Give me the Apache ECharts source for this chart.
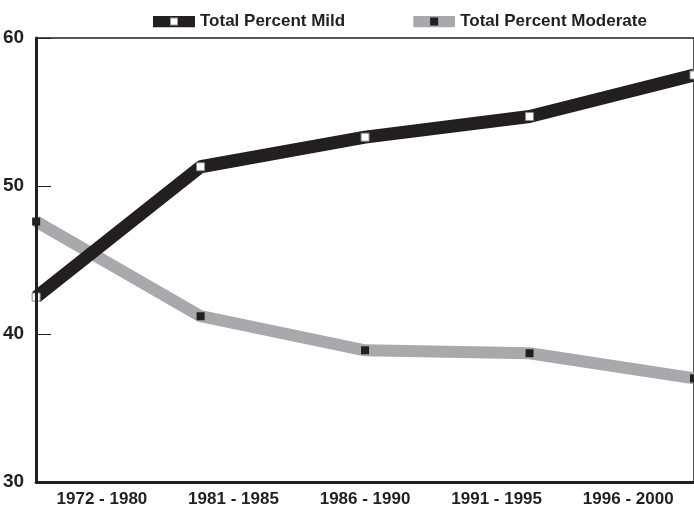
<!DOCTYPE html>
<html><head><meta charset="utf-8">
<script src="https://cdn.jsdelivr.net/npm/echarts@6/dist/echarts.min.js"></script>
<style>html,body{margin:0;padding:0;background:#fff}#c{width:694px;height:515px}</style>
</head><body><div id="c"></div>
<script>
const categories = ['1972 - 1980', '1981 - 1985', '1986 - 1990', '1991 - 1995', '1996 - 2000'];
const mild = [42.5, 51.3, 53.3, 54.7, 57.5];
const moderate = [47.6, 41.2, 38.9, 38.7, 37.0];
const yTicks = { min: 30, max: 60, interval: 10 };
const FONT = "'Liberation Sans', Arial, sans-serif";
const BLACK = '#231f20', GRAY = '#a7a9ac';
function legendIcon(bg, fg, border) {
  const svg = '<svg xmlns="http://www.w3.org/2000/svg" width="42" height="12" viewBox="0 0 42 12">' +
    '<rect x="0" y="0" width="42" height="12" fill="' + bg + '"/>' +
    '<rect x="17.5" y="2.5" width="7" height="7" fill="' + fg + '" stroke="' + border + '" stroke-width="1"/></svg>';
  return 'image://data:image/svg+xml;charset=utf-8,' + encodeURIComponent(svg);
}
const chart = echarts.init(document.getElementById('c'), null, { renderer: 'canvas' });
chart.setOption({
  animation: false,
  backgroundColor: '#fff',
  legend: {
    top: 8, left: 148, itemGap: 68, itemWidth: 42, itemHeight: 12, width: 600,
    textStyle: { fontFamily: FONT, fontWeight: 'bold', fontSize: 17, color: BLACK },
    data: [
      { name: 'Total Percent Mild', icon: legendIcon(BLACK, '#fff', '#999') },
      { name: 'Total Percent Moderate', icon: legendIcon(GRAY, BLACK, BLACK) }
    ]
  },
  grid: { left: 35, right: -5, top: 38, bottom: 33, show: true, borderColor: BLACK, borderWidth: 1.5, containLabel: false },
  xAxis: [{
    type: 'category', data: categories, boundaryGap: true,
    axisLine: { lineStyle: { color: BLACK, width: 3 } },
    axisTick: { inside: true, length: 10, lineStyle: { color: BLACK, width: 1 } },
    axisLabel: { fontFamily: FONT, fontWeight: 'bold', fontSize: 17, color: BLACK, margin: 9, interval: 0 },
    z: 5
  }, {
    type: 'category', data: categories, boundaryGap: false, show: false
  }],
  yAxis: {
    type: 'value', min: yTicks.min, max: yTicks.max, interval: yTicks.interval,
    axisLine: { show: true, lineStyle: { color: BLACK, width: 3 } },
    axisTick: { show: true, inside: true, length: 15, lineStyle: { color: BLACK, width: 1 } },
    splitLine: { show: false },
    axisLabel: { fontFamily: FONT, fontWeight: 'bold', fontSize: 19, color: BLACK, margin: 12 },
    z: 5
  },
  series: [{
    name: 'Total Percent Mild', type: 'line', xAxisIndex: 1, data: mild, z: 3,
    symbol: 'rect', symbolSize: 8,
    lineStyle: { color: BLACK, width: 13 },
    itemStyle: { color: '#fff', borderColor: '#888', borderWidth: 1 }
  }, {
    name: 'Total Percent Moderate', type: 'line', xAxisIndex: 1, data: moderate, z: 2,
    symbol: 'rect', symbolSize: 8,
    lineStyle: { color: GRAY, width: 12 },
    itemStyle: { color: BLACK, borderColor: BLACK, borderWidth: 0 }
  }]
});
</script></body></html>
